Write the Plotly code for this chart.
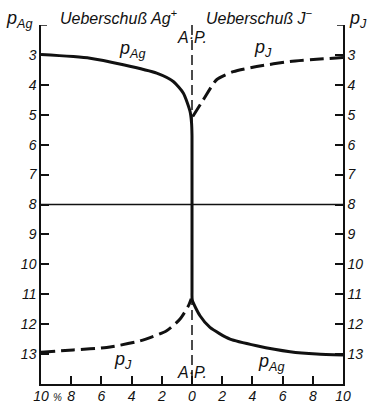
import plotly.graph_objects as go

# pAg curve (solid): excess Ag+ on the left, through the equivalence point, excess J- on the right
pag_x = [-10, -6.75, -4.55, -2.34, -1.24, -0.57, -0.13, -0.03, 0.0, 0.0, 0.02, 0.53, 1.19, 2.52, 4.28, 6.49, 8.26, 10]
pag_y = [2.99, 3.11, 3.33, 3.61, 3.89, 4.28, 4.89, 5.27, 5.7, 10.9, 11.2, 11.72, 12.11, 12.5, 12.72, 12.92, 13.0, 13.03]

# pJ curve (dashed): two branches, below the line on the Ag+ side, above it on the J- side
pj_left_x = [-10, -7.86, -5.65, -3.44, -1.68, -0.79, -0.24, -0.05]
pj_left_y = [12.94, 12.86, 12.78, 12.56, 12.22, 11.83, 11.39, 11.15]
pj_right_x = [0.05, 0.75, 1.63, 2.74, 4.28, 6.49, 8.7, 10]
pj_right_y = [5.06, 4.5, 3.83, 3.56, 3.39, 3.22, 3.13, 3.09]

x_ticks = [-10, -8, -6, -4, -2, 0, 2, 4, 6, 8, 10]
x_tick_text = ["10", "8", "6", "4", "2", "0", "2", "4", "6", "8", "10"]
y_ticks = [3, 4, 5, 6, 7, 8, 9, 10, 11, 12, 13]

FONT = "Liberation Sans"
ink = "#111111"

fig = go.Figure()
fig.add_trace(go.Scatter(x=pag_x, y=pag_y, mode="lines",
                         line=dict(color=ink, width=3, shape="spline", smoothing=0.6),
                         hoverinfo="skip"))
fig.add_trace(go.Scatter(x=pj_left_x, y=pj_left_y, mode="lines",
                         line=dict(color=ink, width=3, dash="14px,6px", shape="spline", smoothing=0.6),
                         hoverinfo="skip"))
fig.add_trace(go.Scatter(x=pj_right_x, y=pj_right_y, mode="lines",
                         line=dict(color=ink, width=3, dash="14px,6px", shape="spline", smoothing=0.6),
                         hoverinfo="skip"))
# invisible trace so the right-hand pJ axis is drawn
fig.add_trace(go.Scatter(x=[0], y=[8], yaxis="y2", mode="markers",
                         marker=dict(opacity=0), hoverinfo="skip"))

# equivalence point line and pAg = pJ = 8 line
fig.add_shape(type="line", x0=0, x1=0, y0=2, y1=14, xref="x", yref="y",
              line=dict(color=ink, width=1.5, dash="10px,5px"))
fig.add_shape(type="line", x0=-10, x1=10, y0=8, y1=8, xref="x", yref="y",
              line=dict(color=ink, width=1.5))
# short corner marks at the top of both axes
fig.add_shape(type="line", x0=-10, x1=-9.6, y0=2, y1=2, xref="x", yref="y",
              line=dict(color=ink, width=1.5))
fig.add_shape(type="line", x0=9.6, x1=10, y0=2, y1=2, xref="x", yref="y",
              line=dict(color=ink, width=1.5))

tfont = dict(family=FONT, size=16, color=ink, style="italic")
lfont = dict(family=FONT, size=18, color=ink, style="italic")
ann = [
    dict(x=0, y=1.0, xref="x", yref="paper", xanchor="right", yanchor="bottom",
         text="Ueberschuß Ag<sup>+</sup>", xshift=-12, yshift=-4),
    dict(x=0, y=1.0, xref="x", yref="paper", xanchor="left", yanchor="bottom",
         text="Ueberschuß J<sup>−</sup>", xshift=12, yshift=-4),
    dict(x=0, y=2.43, xref="x", yref="y", text="A·P.", xanchor="center"),
    dict(x=0, y=13.63, xref="x", yref="y", text="A·P.", xanchor="center"),
    dict(x=-3.97, y=2.83, xref="x", yref="y", text="p<sub>Ag</sub>", font=lfont),
    dict(x=4.7, y=2.8, xref="x", yref="y", text="p<sub>J</sub>", font=lfont),
    dict(x=-4.6, y=13.23, xref="x", yref="y", text="p<sub>J</sub>", font=lfont),
    dict(x=5.2, y=13.27, xref="x", yref="y", text="p<sub>Ag</sub>", font=lfont),
    dict(x=0, y=1.0, xref="paper", yref="paper", xanchor="left", yanchor="bottom",
         text="p<sub>Ag</sub>", xshift=-37, yshift=-8, font=lfont),
    dict(x=1, y=1.0, xref="paper", yref="paper", xanchor="left", yanchor="bottom",
         text="p<sub>J</sub>", xshift=4, yshift=-8, font=lfont),
    dict(x=-8.9, y=0, xref="x", yref="paper", text="%", xanchor="center", yanchor="top",
         yshift=-6, font=dict(family=FONT, size=10, color=ink, style="italic")),
]
for a in ann:
    a.setdefault("font", tfont)
    a["showarrow"] = False
fig.update_layout(annotations=ann)

axis_common = dict(showgrid=False, zeroline=False, showline=True, linecolor=ink,
                   linewidth=1.5, ticks="inside", ticklen=8, tickwidth=1.5, tickcolor=ink,
                   automargin=False,
                   tickfont=dict(family=FONT, size=14, color=ink, style="italic"))

fig.update_layout(
    width=370, height=403,
    margin=dict(l=41, r=27, t=25, b=19, autoexpand=False),
    paper_bgcolor="white", plot_bgcolor="white",
    showlegend=False,
    xaxis=dict(range=[-10, 10], tickvals=x_ticks, ticktext=x_tick_text,
               ticklabelstandoff=-2, **axis_common),
    yaxis=dict(range=[14, 2], tickvals=y_ticks, **axis_common),
    yaxis2=dict(range=[14, 2], tickvals=y_ticks, overlaying="y", side="right",
                matches="y", **axis_common),
)
fig.write_html("out.html")
